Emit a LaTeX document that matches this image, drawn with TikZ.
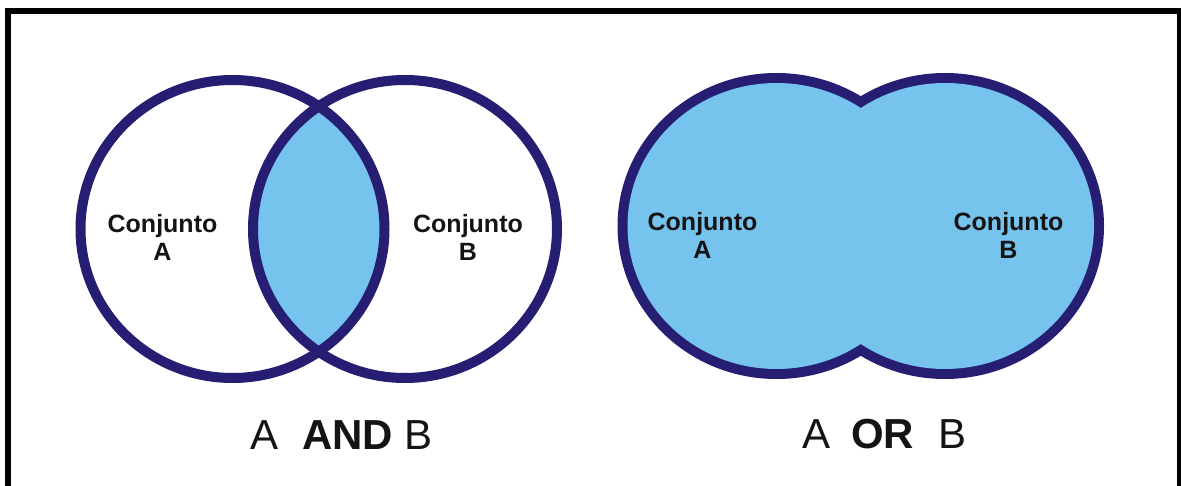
\documentclass[tikz,border=0pt]{standalone}
\usepackage{fontspec}
\setmainfont{Liberation Sans}
\definecolor{navy}{RGB}{38,30,115}
\definecolor{setblue}{RGB}{118,195,238}
\definecolor{ink}{RGB}{20,20,20}
\tikzset{
  frameline/.style={line width=6pt, line join=miter, black},
  ring/.style={line width=10pt, draw=navy},
  setlabel/.style={anchor=base, inner sep=0pt, text=ink, font=\fontsize{25}{30}\selectfont\bfseries},
  title/.style={anchor=base west, inner sep=0pt, text=ink, font=\fontsize{42}{50}\selectfont}
}
\begin{document}
\begin{tikzpicture}[x=1pt,y=1pt]
\useasboundingbox (0,0) rectangle (1181,-486);
\clip (0,0) rectangle (1181,-486);
\fill[white] (0,0) rectangle (1181,-486);
% frame
\coordinate (fbl) at (8,-500);
\coordinate (ftl) at (8,-11);
\coordinate (ftr) at (1180,-11);
\coordinate (fbr) at (1180,-500);
\draw[frameline] (fbl) -- (ftl) -- (ftr) -- (fbr);

% ---------- A AND B ----------
\coordinate (cA) at (232.5,-229);
\coordinate (cB) at (405,-229);
\begin{scope}
  \clip (cA) ellipse [x radius=152, y radius=149];
  \fill[setblue] (cB) ellipse [x radius=152, y radius=149];
\end{scope}
\draw[ring] (cA) ellipse [x radius=152, y radius=149];
\draw[ring] (cB) ellipse [x radius=152, y radius=149];
\node[setlabel] (la1) at (162.5,-232.5) {Conjunto};
\node[setlabel] (la2) at (162.5,-261) {A};
\node[setlabel] (lb1) at (468,-232.5) {Conjunto};
\node[setlabel] (lb2) at (468,-261) {B};
\node[title] (tand) at (250,-449) {A\hspace{24pt}\textbf{AND}\hspace{11pt}B};

% ---------- A OR B ----------
\coordinate (uA) at (776.5,-226);
\coordinate (uB) at (945,-226);
\draw[line width=20pt, draw=navy] (uA) ellipse [x radius=149, y radius=143];
\draw[line width=20pt, draw=navy] (uB) ellipse [x radius=149, y radius=143];
\fill[setblue] (uA) ellipse [x radius=149, y radius=143];
\fill[setblue] (uB) ellipse [x radius=149, y radius=143];
\node[setlabel] (oa1) at (702.5,-230.5) {Conjunto};
\node[setlabel] (oa2) at (702.5,-259) {A};
\node[setlabel] (ob1) at (1008.5,-230.5) {Conjunto};
\node[setlabel] (ob2) at (1008.5,-259) {B};
\node[title] (tor) at (802,-448) {A\hspace{21pt}\textbf{OR}\hspace{24pt}B};
\end{tikzpicture}
\end{document}
